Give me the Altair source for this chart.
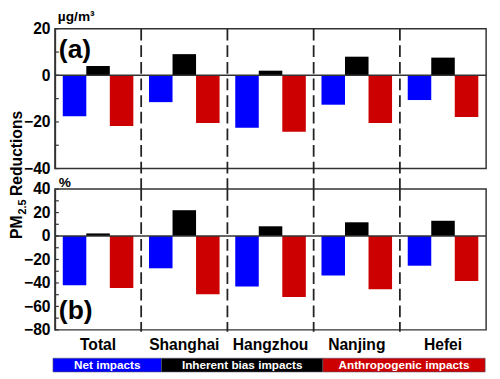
import altair as alt
import pandas as pd

cities = ["Total", "Shanghai", "Hangzhou", "Nanjing", "Hefei"]
series = ["Net impacts", "Inherent bias impacts", "Anthropogenic impacts"]
colors = ["#0000FF", "#000000", "#CC0000"]

a_net = [-17.6, -11.5, -22.5, -12.6, -10.6]
a_bias = [4.0, 9.1, 2.0, 8.0, 7.6]
a_anth = [-21.7, -20.4, -24.2, -20.4, -17.9]

b_net = [-42.0, -27.5, -43.0, -33.6, -25.3]
b_bias = [2.2, 22.0, 8.3, 11.7, 13.0]
b_anth = [-44.4, -49.7, -52.0, -45.3, -38.3]

a_labels = [20, 0, -20, -40]
a_ticks = [20, 10, 0, -10, -20, -30, -40]
b_labels = [40, 20, 0, -20, -40, -60, -80]
b_ticks = [40, 30, 20, 10, 0, -10, -20, -30, -40, -50, -60, -70, -80]

FONT = "Liberation Sans"
W = 441
HA = 143
HB = 144
GAP = 21


def long_df(net, bias, anth):
    rows = []
    for s, vals in zip(series, [net, bias, anth]):
        for c, v in zip(cities, vals):
            rows.append({"city": c, "series": s, "value": v})
    return pd.DataFrame(rows)


def text_layer(txt, x, y, size, angle=0, color="black", align="left", baseline="alphabetic"):
    kw = {}
    if angle:
        kw["angle"] = angle
    return alt.Chart(pd.DataFrame({"t": [txt]})).mark_text(
        font=FONT, fontWeight="bold", fontSize=size, align=align,
        baseline=baseline, color=color, **kw
    ).encode(text="t:N", x=alt.value(x), y=alt.value(y))


def panel(df, domain, labels, ticks, h, show_x, dash_len):
    xs = alt.Scale(domain=cities, paddingInner=0, paddingOuter=0)
    ys = alt.Scale(domain=domain, nice=False, zero=False)
    if show_x:
        xaxis = alt.Axis(title=None, labelAngle=0, ticks=False, domain=False,
                         labelFontSize=16, labelPadding=7, labelFont=FONT,
                         labelFontWeight="bold", labelColor="black")
    else:
        xaxis = None
    yaxis = alt.Axis(values=labels, title=None, grid=False, tickSize=0,
                     labelOverlap=False, labelBound=False,
                     labelPadding=5, labelFontSize=16, labelFont=FONT,
                     labelFontWeight="bold", labelColor="black",
                     domainColor="#333", domainWidth=1.5)
    bars = alt.Chart(df).mark_bar().encode(
        x=alt.X("city:N", sort=cities, scale=xs, axis=xaxis),
        xOffset=alt.XOffset("series:N", sort=series,
                            scale=alt.Scale(domain=series, paddingInner=0, paddingOuter=0.333)),
        y=alt.Y("value:Q", scale=ys, axis=yaxis),
        color=alt.Color("series:N", sort=series,
                        scale=alt.Scale(domain=series, range=colors), legend=None),
    )
    zero = alt.Chart(pd.DataFrame({"value": [0]})).mark_rule(color="#333", strokeWidth=1.5).encode(
        y=alt.Y("value:Q", scale=ys, axis=yaxis)
    )
    tk = alt.Chart(pd.DataFrame({"value": ticks})).mark_rule(color="#333", strokeWidth=1.2).encode(
        y=alt.Y("value:Q", scale=ys, axis=yaxis), x=alt.value(0), x2=alt.value(4)
    )
    dashes = alt.Chart(pd.DataFrame({"city": cities[1:]})).mark_rule(
        color="#222", strokeWidth=1.8, strokeDash=[12, 5]
    ).encode(
        x=alt.X("city:N", sort=cities, scale=xs, bandPosition=0, axis=xaxis),
        y=alt.value(0), y2=alt.value(dash_len),
    )
    return alt.layer(bars, zero, tk, dashes).properties(width=W, height=h)


pa = panel(long_df(a_net, a_bias, a_anth), [-40, 20], a_labels, a_ticks, HA, False, HA + GAP)
pa = alt.layer(
    pa,
    text_layer("µg/m³", 3, -8, 14),
    text_layer("(a)", 4, 30, 27),
    text_layer("PM", -34, 215, 16, angle=270),
    text_layer("2.5", -30, 190, 11, angle=270),
    text_layer("Reductions", -34, 171, 16, angle=270),
)

pb = panel(long_df(b_net, b_bias, b_anth), [-80, 40], b_labels, b_ticks, HB, True, HB + 2)

# legend boxes (layout of the bottom key)
leg_x = [-2, 109, 274, 440]
leg_layers = []
for i, (s, c) in enumerate(zip(series, colors)):
    leg_layers.append(
        alt.Chart(pd.DataFrame({"s": [s]})).mark_rect(color=c, stroke="#556", strokeWidth=0.6).encode(
            x=alt.value(leg_x[i]), x2=alt.value(leg_x[i + 1]),
            y=alt.value(173), y2=alt.value(187),
        )
    )
    leg_layers.append(
        text_layer(s, (leg_x[i] + leg_x[i + 1]) / 2, 184.5, 12, color="white", align="center")
    )

pb = alt.layer(
    pb,
    text_layer("%", 4, -2, 14),
    text_layer("(b)", 4, 133, 27),
    *leg_layers,
)

chart = alt.vconcat(pa, pb, spacing=GAP, bounds="flush").properties(
    padding={"left": 0, "top": -3, "right": 4, "bottom": 0}
).configure_view(stroke="#333", strokeWidth=1.5)

chart.save("out.html", embed_options={"renderer": "svg", "actions": False})
